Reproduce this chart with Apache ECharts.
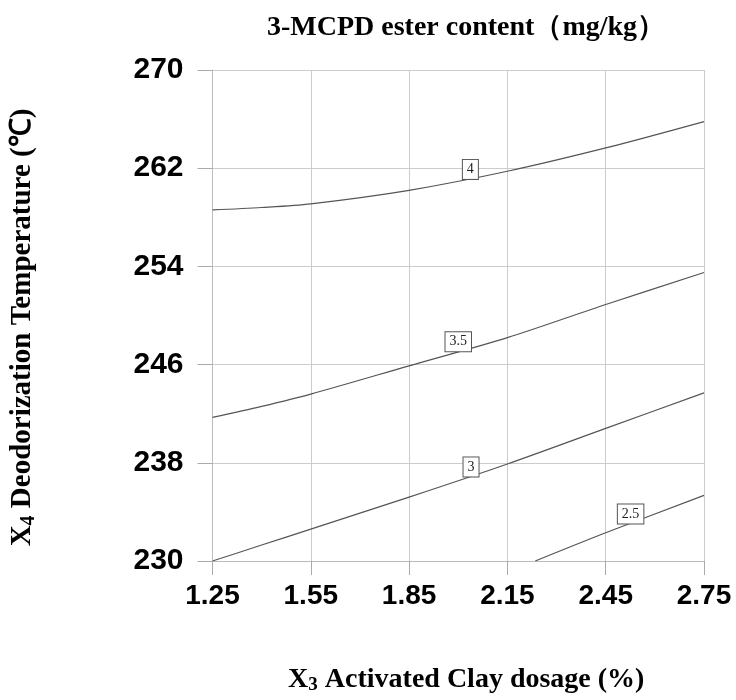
<!DOCTYPE html>
<html lang="en" style="height: 100%">
<head>
  <meta charset="utf-8">
</head>
<body style="height: 100%; margin: 0; background: #fff">
<div id="container" style="height: 100%"></div>

<script type="text/javascript" src="https://cdn.jsdelivr.net/npm/echarts@6/dist/echarts.min.js"></script>

<script type="text/javascript">
  // clay dosage (%) where contours were read
  var xPoints = [1.25, 1.40, 1.55, 1.85, 2.15, 2.45, 2.75];
  // deodorization temperature along each contour
  var level4 = [258.6, 258.8, 259.1, 260.2, 261.75, 263.65, 265.8];
  var level35 = [241.7, 242.6, 243.6, 245.9, 248.2, 250.9, 253.5];
  var level3 = [230.0, 231.3, 232.6, 235.2, 237.9, 240.8, 243.7];
  var xPoints25 = [2.235, 2.45, 2.75];
  var level25 = [230.0, 232.3, 235.35];
  // contour label positions [x, y, text]
  var contourLabels = [
    [2.037, 261.9, '4'],
    [2.0, 247.86, '3.5'],
    [2.039, 237.66, '3'],
    [2.526, 233.83, '2.5']
  ];

  function pairs(xs, ys) {
    return xs.map(function (x, i) { return [x, ys[i]]; });
  }

  var dom = document.getElementById('container');
  var myChart = echarts.init(dom, null, { renderer: 'canvas' });

  var serif = "'Liberation Serif', 'Times New Roman', serif";
  var sans = "'Liberation Sans', Arial, sans-serif";
  var lineStyle = { color: '#555', width: 1.2 };

  function contour(data) {
    return {
      type: 'line',
      data: data,
      smooth: 0.3,
      symbol: 'none',
      lineStyle: lineStyle,
      silent: true
    };
  }

  var option = {
    animation: false,
    title: {
      text: '3-MCPD ester content（mg/kg）',
      left: 461,
      top: 9,
      textAlign: 'center',
      textStyle: { fontFamily: serif, fontSize: 28, fontWeight: 'bold', color: '#000' }
    },
    grid: { left: 212, right: 32, top: 70, bottom: 137 },
    xAxis: {
      type: 'value',
      min: 1.25,
      max: 2.75,
      interval: 0.3,
      name: 'X{s|3} Activated Clay dosage (%)',
      nameLocation: 'middle',
      nameGap: 103,
      nameTextStyle: {
        fontFamily: serif, fontSize: 28, fontWeight: 'bold', color: '#000',
        padding: [0, 0, 0, 16],
        rich: {
          s: { fontFamily: serif, fontSize: 19, fontWeight: 'bold', color: '#000', padding: [12, 0, 0, 0] }
        }
      },
      axisLine: { show: true, lineStyle: { color: '#bbb' } },
      axisTick: { show: true, length: 14, lineStyle: { color: '#aaa' } },
      axisLabel: {
        margin: 21,
        fontFamily: sans, fontSize: 28, fontWeight: 'bold', color: '#000',
        formatter: function (v) { return v.toFixed(2); }
      },
      splitLine: { show: true, lineStyle: { color: '#ccc' } }
    },
    yAxis: {
      type: 'value',
      min: 230,
      max: 270,
      interval: 8,
      name: 'X{s|4} Deodorization Temperature (℃)',
      nameLocation: 'middle',
      nameGap: 174,
      nameRotate: 90,
      nameTextStyle: {
        fontFamily: serif, fontSize: 29, fontWeight: 'bold', color: '#000',
        padding: [0, 24, 0, 0],
        rich: {
          s: { fontFamily: serif, fontSize: 20, fontWeight: 'bold', color: '#000', padding: [12, 0, 0, 0] }
        }
      },
      axisLine: { show: true, lineStyle: { color: '#bbb' } },
      axisTick: { show: true, length: 15, lineStyle: { color: '#aaa' } },
      axisLabel: {
        margin: 29,
        fontFamily: sans, fontSize: 30, fontWeight: 'bold', color: '#000'
      },
      splitLine: { show: true, lineStyle: { color: '#ccc' } }
    },
    series: [
      contour(pairs(xPoints, level4)),
      contour(pairs(xPoints, level35)),
      contour(pairs(xPoints, level3)),
      contour(pairs(xPoints25, level25)),
      {
        type: 'scatter',
        data: contourLabels,
        symbolSize: 1,
        itemStyle: { color: 'rgba(0,0,0,0)' },
        z: 5,
        silent: true,
        label: {
          show: true,
          position: 'inside',
          formatter: function (p) { return p.data[2]; },
          fontFamily: serif,
          fontSize: 14,
          color: '#222',
          opacity: 1,
          backgroundColor: '#fff',
          borderColor: '#555',
          borderWidth: 1,
          padding: [3, 4, 2, 4]
        }
      }
    ]
  };

  myChart.setOption(option);
  window.addEventListener('resize', myChart.resize);
</script>
</body>
</html>
